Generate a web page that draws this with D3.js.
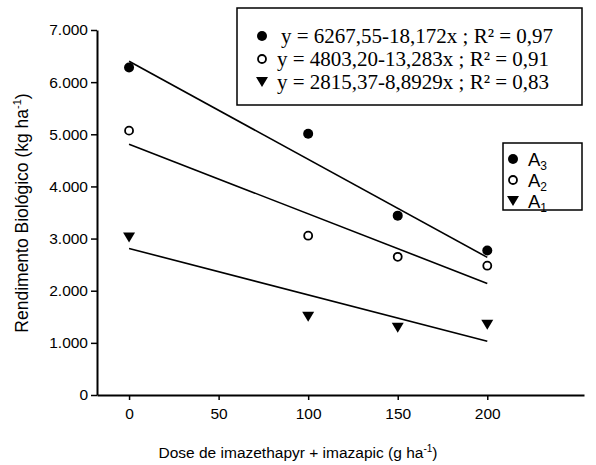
<!DOCTYPE html>
<html>
<head>
<meta charset="utf-8">
<script src="https://cdn.jsdelivr.net/npm/d3@7"></script>
<style>
body { margin: 0; background: #fff; }
svg { display: block; }
</style>
</head>
<body>
<div class="chart"></div>
<script>
// values
const doses = [0, 100, 150, 200];
const a3 = [6280, 5010, 3440, 2770];
const a2 = [5070, 3055, 2650, 2480];
const a1 = [3020, 1500, 1290, 1345];
// fitted lines, value at dose 0 and dose 200
const fitA3 = [6400, 2640];
const fitA2 = [4810, 2140];
const fitA1 = [2810, 1030];
const xTicks = [0, 50, 100, 150, 200];
const yTicks = [0, 1000, 2000, 3000, 4000, 5000, 6000, 7000];
const eqLabels = ["y = 6267,55-18,172x ; R\u00b2 = 0,97", "y = 4803,20-13,283x ; R\u00b2 = 0,91", "y = 2815,37-8,8929x ; R\u00b2 = 0,83"];
const legendNames = ["3", "2", "1"];

const width = 596;
const height = 465;

const svg = d3.select('.chart')
    .append('svg')
    .attr('width', width)
    .attr('height', height)

const x = d3.scaleLinear().domain([-17.9, 254]).range([97, 584]);
const y = d3.scaleLinear().domain([0, 7000]).range([395, 30]);

const series = [
    {vals: a3, fit: fitA3, sym: 'filled'},
    {vals: a2, fit: fitA2, sym: 'open'},
    {vals: a1, fit: fitA1, sym: 'tri'}
];

function drawSymbol(g, sym, cx, cy) {
    if (sym == 'filled') {
        g.append('circle').attr('cx', cx).attr('cy', cy).attr('r', 5).attr('fill', '#000');
    } else if (sym == 'open') {
        g.append('circle').attr('cx', cx).attr('cy', cy).attr('r', 4)
            .attr('fill', '#fff').attr('stroke', '#000').attr('stroke-width', 1.8);
    } else {
        g.append('path')
            .attr('d', `M${cx-6},${cy-5}L${cx+6},${cy-5}L${cx},${cy+5}Z`)
            .attr('fill', '#000');
    }
}

// axes
svg.append('g')
    .attr('transform', `translate(0,${y(0)})`)
    .call(d3.axisBottom(x).tickValues(xTicks).tickSize(5).tickSizeOuter(0).tickPadding(8));

svg.append('g')
    .attr('transform', `translate(${x(-17.9)},0)`)
    .call(d3.axisLeft(y).tickValues(yTicks).tickSize(6).tickSizeOuter(0).tickPadding(3)
        .tickFormat(d => d3.format(',')(d).replace(/,/g, '.')));

svg.selectAll('.domain').attr('stroke', '#000').attr('stroke-width', 2);
svg.selectAll('.tick line').attr('stroke', '#000').attr('stroke-width', 1.5);
svg.selectAll('.tick text')
    .attr('font-family', 'Liberation Sans, Arial, sans-serif')
    .attr('font-size', 15.5)
    .attr('fill', '#000');

// regression lines
series.forEach(s => {
    svg.append('line')
        .attr('x1', x(0)).attr('y1', y(s.fit[0]))
        .attr('x2', x(200)).attr('y2', y(s.fit[1]))
        .attr('stroke', '#000')
        .attr('stroke-width', 1.6);
});

// points
series.forEach(s => {
    const g = svg.append('g');
    s.vals.forEach((v, i) => drawSymbol(g, s.sym, x(doses[i]), y(v)));
});

// axis titles
svg.append('text')
    .text('Dose de imazethapyr + imazapic (g ha')
    .attr('x', 298)
    .attr('y', 458)
    .attr('text-anchor', 'middle')
    .attr('font-family', 'Liberation Sans, Arial, sans-serif')
    .attr('font-size', 15.5)
    .call(t => {
        t.append('tspan').text('-1').attr('font-size', 10).attr('dy', -6);
        t.append('tspan').text(')').attr('dy', 6);
    });

svg.append('text')
    .attr('transform', 'translate(28,213) rotate(-90)')
    .attr('text-anchor', 'middle')
    .attr('font-family', 'Liberation Sans, Arial, sans-serif')
    .attr('font-size', 17.5)
    .text('Rendimento Biológico (kg ha')
    .call(t => {
        t.append('tspan').text('-1').attr('font-size', 11).attr('dy', -7);
        t.append('tspan').text(')').attr('dy', 7);
    });

// equations box
const eq = svg.append('g');
eq.append('rect')
    .attr('x', 237).attr('y', 8)
    .attr('width', 345).attr('height', 97)
    .attr('fill', '#fff').attr('stroke', '#000').attr('stroke-width', 1.5);
eqLabels.forEach((lab, i) => {
    const cy = 36 + i * 23;
    drawSymbol(eq, series[i].sym, 262, cy);
    eq.append('text')
        .text(lab)
        .attr('x', i == 0 ? 281 : 277)
        .attr('y', cy + 7)
        .attr('font-family', 'Liberation Serif, Times New Roman, serif')
        .attr('font-size', 21);
});

// legend box
const leg = svg.append('g');
leg.append('rect')
    .attr('x', 503).attr('y', 143)
    .attr('width', 79).attr('height', 67)
    .attr('fill', '#fff').attr('stroke', '#000').attr('stroke-width', 1.5);
legendNames.forEach((n, i) => {
    const cy = 159 + i * 21;
    drawSymbol(leg, series[i].sym, 513, cy);
    leg.append('text')
        .attr('x', 528)
        .attr('y', cy + 6.5)
        .attr('font-family', 'Liberation Sans, Arial, sans-serif')
        .attr('font-size', 18.5)
        .text('A')
        .append('tspan')
        .text(n)
        .attr('font-size', 12)
        .attr('dy', 4);
});
</script>
</body>
</html>
